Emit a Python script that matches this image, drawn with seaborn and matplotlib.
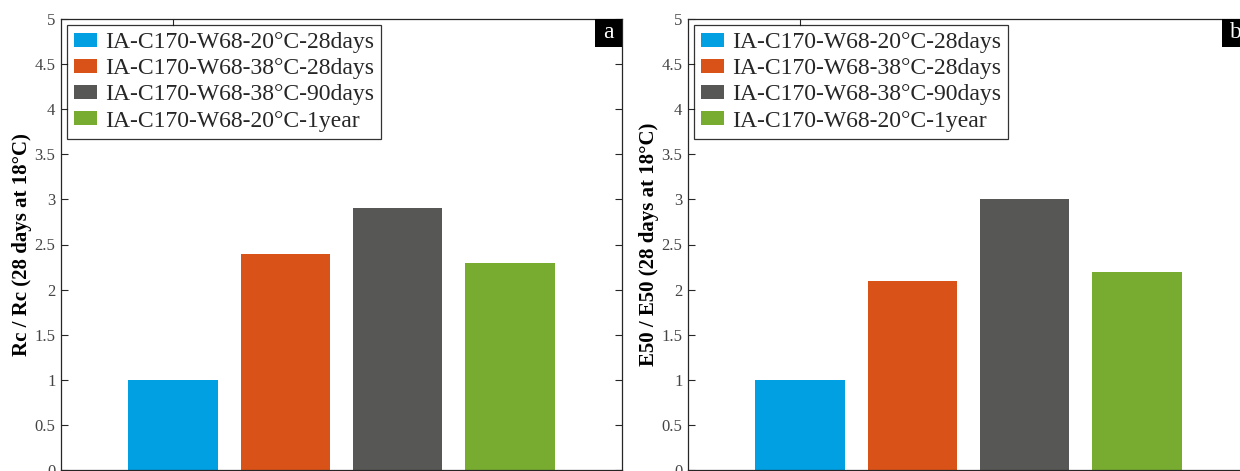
import matplotlib
matplotlib.use("Agg")
import matplotlib.pyplot as plt
import matplotlib.patches as mpatches
import pandas as pd
import seaborn as sns

# data
series = [
    "IA-C170-W68-20°C-28days",
    "IA-C170-W68-38°C-28days",
    "IA-C170-W68-38°C-90days",
    "IA-C170-W68-20°C-1year",
]
positions = [1, 2, 3, 4]
rc_ratio = [1.0, 2.4, 2.9, 2.3]
e50_ratio = [1.0, 2.1, 3.0, 2.2]
colors = ["#00A0E2", "#D95319", "#575756", "#77AC30"]
ylabels = ["Rc / Rc (28 days at 18°C)", "E50 / E50 (28 days at 18°C)"]
panel_tags = ["a", "b"]
yticks = [0, 0.5, 1, 1.5, 2, 2.5, 3, 3.5, 4, 4.5, 5]

sns.set_theme(style="white")
plt.rcParams["font.family"] = ["Liberation Serif", "DejaVu Serif"]

W, H = 1240, 471
fig = plt.figure(figsize=(W / 100, H / 100), dpi=100)
ax_w = 561 / W
ax_h = 451 / H
ax_bottom = 1 / H
axes = [
    fig.add_axes([61 / W, ax_bottom, ax_w, ax_h]),
    fig.add_axes([688 / W, ax_bottom, ax_w, ax_h]),
]

spine_col = "#262626"
for ax, vals, ylab, tag in zip(axes, [rc_ratio, e50_ratio], ylabels, panel_tags):
    df = pd.DataFrame({"pos": positions, "value": vals, "series": series})
    sns.barplot(data=df, x="pos", y="value", hue="series", hue_order=series,
                palette=colors, native_scale=True, width=0.8, dodge=False,
                saturation=1, ax=ax, edgecolor="none")
    ax.set_xlim(0, 5)
    ax.set_ylim(0, 5)
    ax.set_xticks([1])
    ax.set_xticklabels([""])
    ax.set_yticks(yticks)
    ax.set_yticklabels([f"{t:g}" for t in yticks])
    ax.set_xlabel("")
    ax.set_ylabel(ylab, fontsize=15, fontweight="bold", color="black", labelpad=2)
    ax.tick_params(axis="both", direction="in", length=5, width=0.8, color=spine_col,
                   top=True, right=True, bottom=True, left=True,
                   labelsize=12, labelcolor="#444444", pad=4)
    for sp in ax.spines.values():
        sp.set_visible(True)
        sp.set_color(spine_col)
        sp.set_linewidth(0.9)

    handles, labels = ax.get_legend_handles_labels()
    leg = ax.legend(handles, labels, loc="upper left", fontsize=17,
                    frameon=True, fancybox=False, edgecolor="black",
                    borderaxespad=0.25, borderpad=0.3, labelspacing=0.22,
                    handlelength=0.97, handleheight=0.55, handletextpad=0.34)
    leg.get_frame().set_linewidth(0.9)

    bw, bh = 27 / 561, 28 / 451
    ax.add_patch(mpatches.Rectangle((1 - bw, 1 - bh), bw, bh, transform=ax.transAxes,
                                    facecolor="black", edgecolor="none", zorder=5,
                                    clip_on=False))
    ax.text(1 - bw / 2, 1 - bh / 2, tag, transform=ax.transAxes, ha="center",
            va="center", color="white", fontsize=17, zorder=6)

fig.savefig("out.png", dpi=100)
